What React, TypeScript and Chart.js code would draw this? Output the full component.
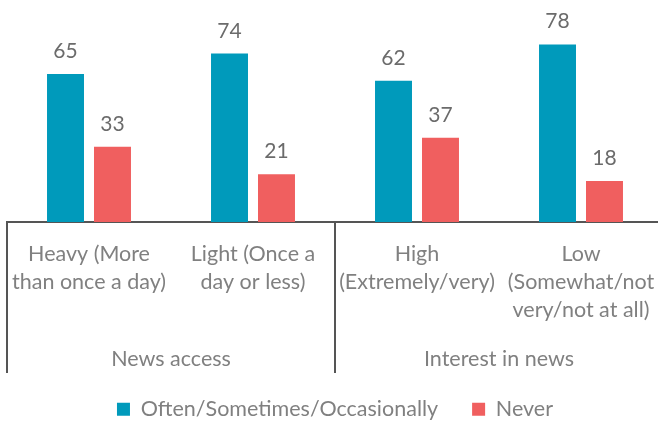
import React, { useEffect, useRef } from "react";
import { Chart, registerables } from "chart.js";

Chart.register(...registerables);

const categories: string[][] = [
  ["Heavy (More", "than once a day)"],
  ["Light (Once a", "day or less)"],
  ["High", "(Extremely/very)"],
  ["Low", "(Somewhat/not", "very/not at all)"],
];
const groupLabels = ["News access", "Interest in news"];
const groupSizes = [2, 2];
const seriesNames = ["Often/Sometimes/Occasionally", "Never"];
const oftenValues = [65, 74, 62, 78];
const neverValues = [33, 21, 37, 18];

const TEAL = "#009abb";
const CORAL = "#f05f5f";
const TEXT = "#808080";
const LABEL = "#6b6b6b";
const LINE = "#555555";
const FONT = "Lato";

const CANVAS_W = 664;
const CANVAS_H = 430;
const AXIS_Y = 222;
const LINE_END = 373;
const LEGEND_PAD = 34;
const LEGEND_FONT = 21.5;

const extras = {
  id: "extras",
  afterDatasetsDraw(chart: any) {
    const ctx = chart.ctx;
    ctx.save();
    ctx.font = `21px ${FONT}`;
    ctx.fillStyle = LABEL;
    ctx.textAlign = "center";
    ctx.textBaseline = "alphabetic";
    chart.data.datasets.forEach((ds: any, i: number) => {
      const meta = chart.getDatasetMeta(i);
      meta.data.forEach((bar: any, j: number) => {
        ctx.fillText(String(ds.data[j]), bar.x, bar.y - 16);
      });
    });
    ctx.restore();
  },
  afterDraw(chart: any) {
    const ctx = chart.ctx;
    const xs = chart.scales.x;
    const bottom = chart.chartArea.bottom;
    ctx.save();
    ctx.strokeStyle = LINE;
    ctx.lineWidth = 2;
    let start = 0;
    const seps: number[] = [xs.getPixelForValue(-0.5)];
    groupSizes.forEach((n) => {
      start += n;
      seps.push(xs.getPixelForValue(start - 0.5));
    });
    seps.slice(0, seps.length - 1).forEach((px) => {
      const x = Math.round(px);
      ctx.beginPath();
      ctx.moveTo(x, bottom);
      ctx.lineTo(x, LINE_END);
      ctx.stroke();
    });
    ctx.font = `21.5px ${FONT}`;
    ctx.fillStyle = TEXT;
    ctx.textAlign = "center";
    ctx.textBaseline = "alphabetic";
    let s = 0;
    groupLabels.forEach((g, i) => {
      const c = xs.getPixelForValue(s + (groupSizes[i] - 1) / 2);
      ctx.fillText(g, c, 366);
      s += groupSizes[i];
    });
    ctx.restore();
  },
};

export default function App() {
  const ref = useRef<HTMLCanvasElement>(null);
  useEffect(() => {
    if (!ref.current) return;
    const legendH = LEGEND_FONT + LEGEND_PAD + 10;
    const axisH = CANVAS_H - legendH - AXIS_Y;
    const chart = new Chart(ref.current, {
      type: "bar",
      data: {
        labels: categories,
        datasets: [
          {
            label: seriesNames[0],
            data: oftenValues,
            backgroundColor: TEAL,
            categoryPercentage: 0.573,
            barPercentage: 0.787,
          },
          {
            label: seriesNames[1],
            data: neverValues,
            backgroundColor: CORAL,
            categoryPercentage: 0.573,
            barPercentage: 0.787,
          },
        ],
      },
      options: {
        responsive: false,
        animation: false,
        layout: { padding: { left: 7, right: 1, top: 0, bottom: 0 } },
        plugins: {
          legend: {
            position: "bottom",
            labels: {
              boxWidth: 13,
              boxHeight: 13,
              padding: LEGEND_PAD,
              color: TEXT,
              font: { family: FONT, size: LEGEND_FONT },
            },
          },
          tooltip: { enabled: false },
        },
        scales: {
          x: {
            grid: { display: false, drawTicks: false },
            border: { display: true, color: LINE, width: 2 },
            ticks: {
              color: TEXT,
              padding: 18,
              maxRotation: 0,
              autoSkip: false,
              font: { family: FONT, size: 21.5, lineHeight: "28px" },
            },
            afterFit: (scale: any) => {
              scale.height = axisH;
              scale.paddingLeft = 0;
              scale.paddingRight = 0;
            },
          },
          y: {
            display: false,
            min: 0,
            max: 97.5,
          },
        },
      },
      plugins: [extras],
    });
    return () => chart.destroy();
  }, []);
  return (
    <div
      style={{
        position: "fixed",
        left: 0,
        top: 0,
        width: 658,
        height: 421,
        overflow: "hidden",
        background: "#fff",
      }}
    >
      <canvas
        ref={ref}
        width={CANVAS_W}
        height={CANVAS_H}
        style={{ width: CANVAS_W, height: CANVAS_H, display: "block" }}
      />
    </div>
  );
}
